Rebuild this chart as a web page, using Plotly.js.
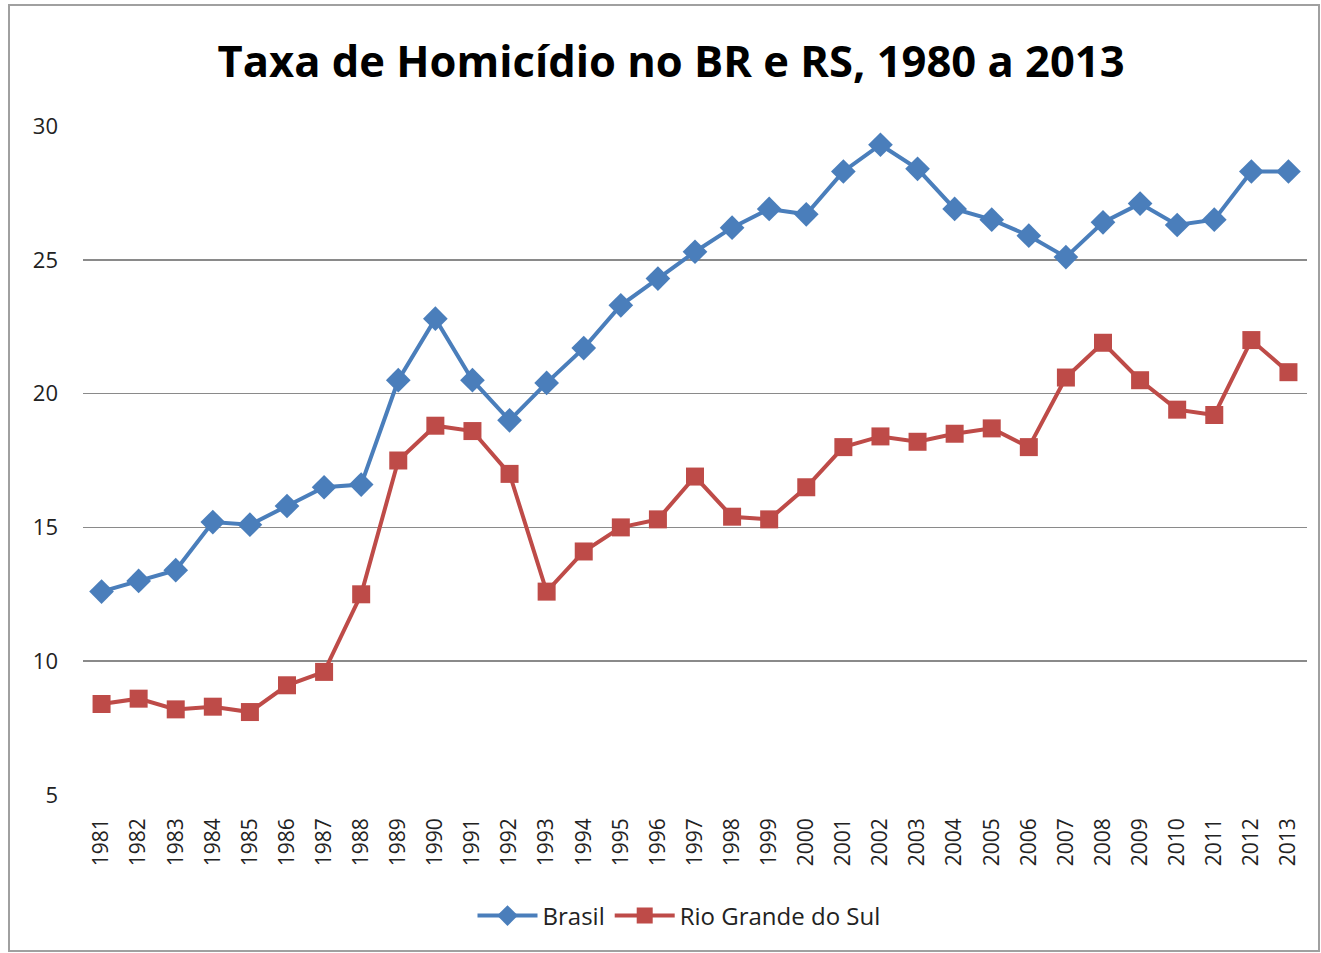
<!DOCTYPE html>
<html>
<head>
<meta charset="utf-8">
<script src="https://cdn.plot.ly/plotly-3.0.1.min.js"></script>
<style>
  html, body { margin: 0; padding: 0; background: #fff; }
  #chart { width: 1321px; height: 953px; }
</style>
</head>
<body>
<div id="chart"></div>
<script>
const years = ['1981','1982','1983','1984','1985','1986','1987','1988','1989','1990','1991','1992','1993','1994','1995','1996','1997','1998','1999','2000','2001','2002','2003','2004','2005','2006','2007','2008','2009','2010','2011','2012','2013'];
const brasil = [12.6,13.0,13.4,15.2,15.1,15.8,16.5,16.6,20.5,22.8,20.5,19.0,20.4,21.7,23.3,24.3,25.3,26.2,26.9,26.7,28.3,29.3,28.4,26.9,26.5,25.9,25.1,26.4,27.1,26.3,26.5,28.3,28.3];
const rs = [8.4,8.6,8.2,8.3,8.1,9.1,9.6,12.5,17.5,18.8,18.6,17.0,12.6,14.1,15.0,15.3,16.9,15.4,15.3,16.5,18.0,18.4,18.2,18.5,18.7,18.0,20.6,21.9,20.5,19.4,19.2,22.0,20.8];
const yTicks = [5,10,15,20,25,30];
const titleText = 'Taxa de Homicídio no BR e RS, 1980 a 2013';

const blue = '#4A7EBB';
const red = '#BE4B48';

const traces = [
  {
    x: years, y: brasil, name: 'Brasil', type: 'scatter', mode: 'lines+markers',
    line: {color: blue, width: 4},
    marker: {symbol: 'diamond', size: 19, color: blue}
  },
  {
    x: years, y: rs, name: 'Rio Grande do Sul', type: 'scatter', mode: 'lines+markers',
    line: {color: red, width: 4},
    marker: {symbol: 'square', size: 18, color: red}
  }
];

const L = 83, R = 14, T = 126, B = 158;
const W = 1321, H = 953;
const pw = W - L - R, ph = H - T - B;
function px2x(p) { return (p - L) / pw; }
function py2y(p) { return 1 - (p - T) / ph; }

const layout = {
  width: W, height: H,
  margin: {l: L, r: R, t: T, b: B},
  paper_bgcolor: '#fff', plot_bgcolor: '#fff',
  font: {family: 'Open Sans, sans-serif', color: '#222'},
  title: {
    text: '<b>' + titleText + '</b>',
    font: {family: 'Open Sans, sans-serif', size: 43.5, color: '#000'},
    x: 0.508, xanchor: 'center', y: 0.935, yanchor: 'middle'
  },
  xaxis: {
    type: 'category', range: [-0.5, years.length - 0.5],
    tickangle: -90, tickfont: {size: 21, color: '#222', family: 'Open Sans, sans-serif'},
    showgrid: false, zeroline: false, showline: false, ticks: '', ticklen: 0,
    ticklabelstandoff: 18
  },
  yaxis: {
    range: [5, 30], tickvals: yTicks, ticktext: yTicks.map(String),
    tickfont: {size: 22, color: '#222', family: 'Open Sans, sans-serif'},
    showgrid: true, gridcolor: '#8a8a8a', gridwidth: 1.5,
    zeroline: false, showline: false, ticks: '', ticklabelstandoff: 24
  },
  showlegend: true,
  legend: {
    orientation: 'h', x: px2x(679), xanchor: 'center', y: py2y(916), yanchor: 'middle',
    font: {size: 24, color: '#222', family: 'Open Sans, sans-serif'},
    itemwidth: 60, tracegroupgap: 0
  },
  shapes: [
    {type: 'rect', xref: 'paper', yref: 'paper',
     x0: px2x(9), x1: px2x(1319), y0: py2y(951), y1: py2y(5),
     line: {color: '#a0a0a0', width: 2}, fillcolor: 'rgba(0,0,0,0)', layer: 'below'}
  ]
};

Plotly.newPlot('chart', traces, layout, {displayModeBar: false, staticPlot: true});
</script>
</body>
</html>
